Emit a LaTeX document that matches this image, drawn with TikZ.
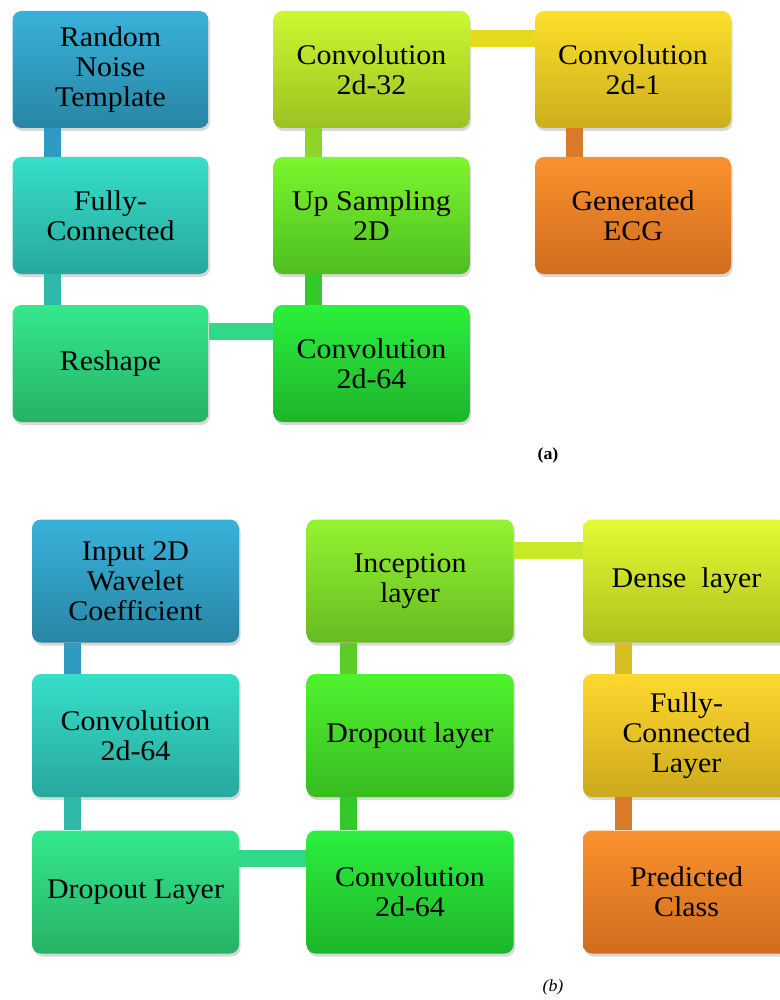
\documentclass[tikz,border=0pt]{standalone}
\usepackage{fontspec}
\setmainfont[FakeStretch=1.05]{Liberation Serif}
\usetikzlibrary{shadows,shadings}

\definecolor{blueT}{HTML}{38B2DA}\definecolor{blueB}{HTML}{2885A5}
\definecolor{tealT}{HTML}{36DEC8}\definecolor{tealB}{HTML}{28A89E}
\definecolor{mintT}{HTML}{34E88E}\definecolor{mintB}{HTML}{26B266}
\definecolor{grnT}{HTML}{2CF03C}\definecolor{grnB}{HTML}{1EB42C}
\definecolor{limeT}{HTML}{7CF62E}\definecolor{limeB}{HTML}{4EBE20}
\definecolor{dropT}{HTML}{50F22E}\definecolor{dropB}{HTML}{38BC22}
\definecolor{incT}{HTML}{94F432}\definecolor{incB}{HTML}{68BA22}
\definecolor{ygT}{HTML}{CCF830}\definecolor{ygB}{HTML}{9CC222}
\definecolor{densT}{HTML}{E4FA30}\definecolor{densB}{HTML}{AEC21E}
\definecolor{yelT}{HTML}{FCE02A}\definecolor{yelB}{HTML}{CCAE1E}
\definecolor{fclT}{HTML}{FFD82E}\definecolor{fclB}{HTML}{CCA81E}
\definecolor{orgT}{HTML}{FA922E}\definecolor{orgB}{HTML}{D06C1E}
% connector colours
\definecolor{lkBlue}{HTML}{2E9CC0}
\definecolor{lkTeal}{HTML}{2DB8A8}
\definecolor{lkMint}{HTML}{30D888}
\definecolor{lkGrn}{HTML}{34C82A}
\definecolor{lkLime}{HTML}{8ED42A}
\definecolor{lkDrop}{HTML}{5CCC28}
\definecolor{lkInc}{HTML}{C8E82A}
\definecolor{lkYel}{HTML}{E8D820}
\definecolor{lkDens}{HTML}{D8BE20}
\definecolor{lkOrg}{HTML}{D87A28}

\tikzset{
  blk/.style={rounded corners=9pt,minimum width=196pt,minimum height=117pt,
    align=center,inner sep=0pt,font=\fontsize{28.5}{30}\selectfont,
    drop shadow={opacity=0.3,shadow xshift=1.5pt,shadow yshift=-3pt}},
  blkb/.style={blk,minimum width=207pt,minimum height=123pt},
  lnk/.style={line width=17pt},
}

\begin{document}
\begin{tikzpicture}[x=1pt,y=-1pt]
        \useasboundingbox[fill=white] (0,0) rectangle (779,1000);
        % (a)
        \node[blk,top color=blueT,bottom color=blueB] (rn) at (110.5,69.5) {Random\\Noise\\Template};
        \node[blk,top color=tealT,bottom color=tealB] (fc) at (110.5,215.5) {Fully-\\Connected};
        \node[blk,top color=mintT,bottom color=mintB] (rs) at (110.5,363.5) {Reshape};
        \node[blk,top color=grnT,bottom color=grnB] (cv64) at (371.5,363.5) {Convolution\\2d-64};
        \node[blk,top color=limeT,bottom color=limeB] (up) at (371.5,215.5) {Up Sampling\\2D};
        \node[blk,top color=ygT,bottom color=ygB] (cv32) at (371.5,69.5) {Convolution\\2d-32};
        \node[blk,top color=yelT,bottom color=yelB] (cv1) at (633,69.5) {Convolution\\2d-1};
        \node[blk,top color=orgT,bottom color=orgB] (ecg) at (633,215.5) {Generated\\ECG};
        \draw[lnk,lkBlue] ([xshift=40pt]rn.south west) -- ([xshift=40pt]fc.north west);
        \draw[lnk,lkTeal] ([xshift=40pt]fc.south west) -- ([xshift=40pt]rs.north west);
        \draw[lnk,lkMint] ([yshift=-27pt]rs.north east) -- ([yshift=-27pt]cv64.north west);
        \draw[lnk,lkGrn] ([xshift=40pt]cv64.north west) -- ([xshift=40pt]up.south west);
        \draw[lnk,lkLime] ([xshift=40pt]up.north west) -- ([xshift=40pt]cv32.south west);
        \draw[lnk,lkYel] ([yshift=-28pt]cv32.north east) -- ([yshift=-28pt]cv1.north west);
        \draw[lnk,lkOrg] ([xshift=40pt]cv1.south west) -- ([xshift=40pt]ecg.north west);
        \node[font=\fontsize{17}{20}\selectfont\bfseries] (capa) at (548,455) {(a)};
        % (b)
        \node[blkb,top color=blueT,bottom color=blueB] (inp) at (135.5,581) {Input 2D\\Wavelet\\Coefficient};
        \node[blkb,top color=tealT,bottom color=tealB] (cvb1) at (135.5,735.5) {Convolution\\2d-64};
        \node[blkb,top color=mintT,bottom color=mintB] (drop1) at (135.5,892) {Dropout Layer};
        \node[blkb,top color=grnT,bottom color=grnB] (cvb2) at (410,892) {Convolution\\2d-64};
        \node[blkb,top color=dropT,bottom color=dropB] (drop2) at (410,735.5) {Dropout layer};
        \node[blkb,top color=incT,bottom color=incB] (incep) at (410,581) {Inception\\layer};
        \node[blkb,top color=densT,bottom color=densB] (dense) at (686.5,581) {Dense~~layer};
        \node[blkb,top color=fclT,bottom color=fclB] (fcl) at (686.5,735.5) {Fully-\\Connected\\Layer};
        \node[blkb,top color=orgT,bottom color=orgB] (pred) at (686.5,892) {Predicted\\Class};
        \draw[lnk,lkBlue] ([xshift=41pt]inp.south west) -- ([xshift=41pt]cvb1.north west);
        \draw[lnk,lkTeal] ([xshift=41pt]cvb1.south west) -- ([xshift=41pt]drop1.north west);
        \draw[lnk,lkMint] ([yshift=-28pt]drop1.north east) -- ([yshift=-28pt]cvb2.north west);
        \draw[lnk,lkGrn] ([xshift=42pt]cvb2.north west) -- ([xshift=42pt]drop2.south west);
        \draw[lnk,lkDrop] ([xshift=42pt]drop2.north west) -- ([xshift=42pt]incep.south west);
        \draw[lnk,lkInc] ([yshift=-31pt]incep.north east) -- ([yshift=-31pt]dense.north west);
        \draw[lnk,lkDens] ([xshift=41pt]dense.south west) -- ([xshift=41pt]fcl.north west);
        \draw[lnk,lkOrg] ([xshift=41pt]fcl.south west) -- ([xshift=41pt]pred.north west);
        \node[font=\fontsize{17}{20}\selectfont\itshape] (capb) at (553,987) {(b)};
\end{tikzpicture}
\end{document}
